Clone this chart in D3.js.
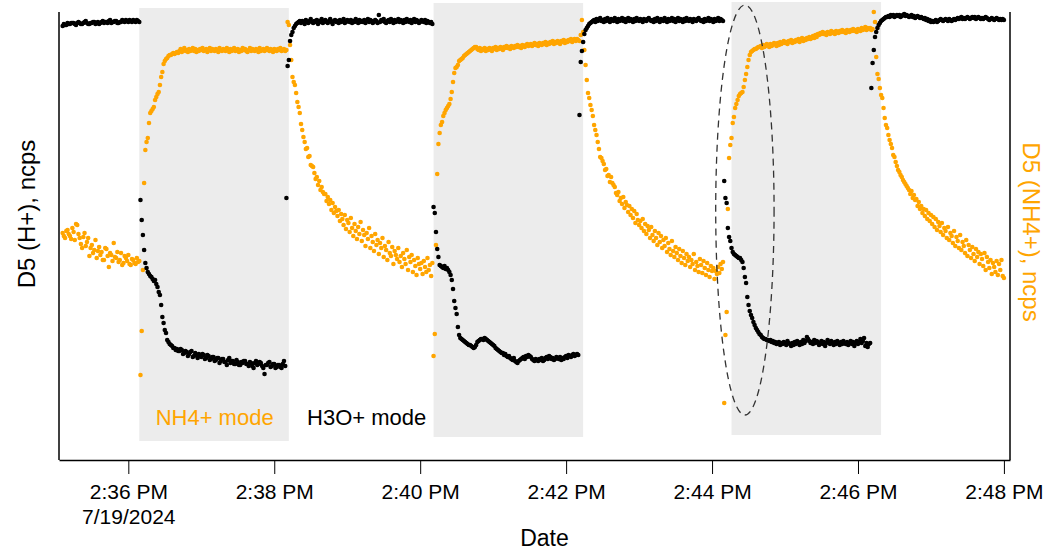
<!DOCTYPE html>
<html>
<head>
<meta charset="utf-8">
<script src="https://cdn.jsdelivr.net/npm/d3@7"></script>
<style>
  body { margin: 0; background: #fff; }
  text { font-family: "Liberation Sans", Arial, sans-serif; }
</style>
</head>
<body>
<div id="chart"></div>
<script>
// 1 s samples; each chunk starts at phaseStart[p] seconds after 2:35:00 PM
const baseTime = new Date(2024, 6, 19, 14, 35, 0);
const phaseStart = [6, 70, 192, 311, 431, 550, 672];

// D5 (H+), black
const hPlus0 = [434,436,435,435,437,436,436,437,437,437,436,435,437,438,437,436,
  436,437,438,439,437,436,436,437,437,438,438,436,437,438,436,437,
  438,439,437,438,438,437,439,440,437,438,438,439,439,437,437,438,
  438,440,439,438,440,439,438,440,439,438,440,439,438,440,439,438];
const hPlus1 = [260,240,225,210,197,192,188,186,184,183,181,179,180,176,173,168,165,155,143,137,
  130,127,120,118,116,115,114,112,112,110,111,109,109,111,110,106,107,109,108,104,
  106,108,109,103,104,107,105,102,106,104,103,106,105,101,102,105,104,100,101,103,
  103,99,100,102,102,97,99,101,101,98,98,95,100,102,97,99,99,96,96,100,
  98,95,95,98,97,99,99,96,96,94,98,97,94,92,97,99,95,96,98,97,
  94,92,86,95,95,97,98,93,94,96,96,92,93,95,95,93,92,96,99,94,262,394];
const hPlus2 = [400,419,425,428,432,434,436,437,438,439,
  437,439,438,436,440,438,437,439,441,438,437,439,438,440,436,439,438,441,437,439,
  440,438,437,439,441,438,436,439,440,438,439,437,440,438,439,441,437,438,440,439,
  438,440,437,439,438,441,439,437,440,438,439,438,440,437,439,441,438,440,439,437,
  438,440,439,437,445,438,440,439,441,438,437,439,440,438,441,439,437,440,438,439,
  441,438,440,439,437,440,438,441,439,438,440,437,439,441,438,440,439,437,438,440,
  439,438,440,437,439,438,437,438,436];
const hPlus3 = [253,247,228,211,203,195,194,193,192,194,191,192,190,188,185,180,171,159,152,146,
  133,125,122,121,120,119,118,117,116,115,115,114,113,112,113,115,118,119,120,121,
  121,120,122,121,120,119,118,117,116,115,114,112,111,110,109,108,107,107,105,106,
  104,103,104,102,101,100,102,99,98,97,99,100,101,102,103,101,104,103,105,104,
  103,101,100,99,101,100,99,101,100,102,99,100,102,103,101,104,103,101,102,100,
  101,103,102,101,103,100,102,101,103,104,102,105,104,103,105,106,104,105,106,105];
const hPlus4 = [345,398,409,418,426,430,432,434,436,437,438,439,440,438,441,439,440,442,439,
  440,438,441,439,442,440,438,441,440,439,442,440,438,441,439,440,442,439,441,438,
  440,442,439,441,440,438,441,439,442,440,439,441,440,438,441,440,439,441,442,440,
  439,440,438,441,439,442,440,438,441,440,439,442,440,438,441,439,440,442,439,441,
  438,440,442,439,441,440,438,441,439,442,440,439,441,440,438,441,440,439,441,442,
  440,439,440,438,441,439,440,442,439,441,440,438,441,439,440,442,439,441,440,439];
const hPlus5 = [279,262,257,232,223,219,212,208,206,205,204,203,202,202,200,198,192,183,177,163,
  155,149,145,142,138,135,132,130,128,126,125,123,122,121,121,120,120,119,120,118,
  119,117,118,116,117,118,115,117,116,118,117,115,119,117,116,114,117,115,118,116,
  119,117,115,118,116,120,117,119,123,121,119,117,118,116,120,117,119,118,115,117,
  119,116,118,114,117,120,118,116,119,117,115,118,116,119,117,115,118,116,119,117,
  116,118,115,117,119,116,118,114,117,119,116,118,121,117,119,122,114,117,113,116,117,372];
const hPlus6 = [397,410,423,428,432,435,437,439,440,441,442,443,443,444,443,445,444,445,443,444,
  445,444,445,443,444,445,446,444,445,444,443,444,445,443,444,442,443,444,443,442,
  443,442,441,442,440,441,439,440,438,439,438,439,440,438,439,440,441,440,439,440,
  441,440,439,441,440,439,440,441,440,441,442,441,442,443,441,442,441,442,443,442,
  441,442,443,442,443,441,442,443,442,441,442,441,442,443,442,441,440,441,442,441,
  440,441,442,441,440,441,440,441,440];

// D5 (NH4+), orange
const nh4_0 = [227,224,222,229,230,226,224,221,232,228,220,236,235,226,222,216,
  212,223,227,214,218,222,204,212,215,207,210,220,202,209,213,205,
  208,200,200,212,211,204,193,207,205,199,217,203,202,208,198,200,
  207,195,197,204,202,199,205,196,195,201,200,197,196,202,198,199];
const nh4_1 = [85,129,190,277,310,318,322,337,347,349,351,353,360,363,366,368,375,383,388,396,
  399,401,402,404,405,405,406,407,406,407,408,407,
  409,411,408,410,412,409,410,408,411,409,410,412,409,411,408,410,409,411,410,412,
  409,410,411,408,410,412,409,411,410,409,411,410,408,412,410,409,411,410,409,412,
  410,408,411,409,410,412,409,410,411,408,410,409,412,410,411,409,408,410,412,409,
  411,410,409,411,410,408,412,409,410,411,409,410,412,410,409,411,410,408,411,410,
  409,411,410,412,409,410,411,409,410,438];
const nh4_2 = [435,415,400,383,378,375,367,358,353,347,
  336,330,323,318,311,312,303,304,295,294,293,287,281,283,275,279,270,273,268,266,
  266,259,263,256,260,250,257,247,253,249,244,250,239,246,241,235,245,231,240,237,
  228,242,232,224,236,229,221,233,226,238,219,230,225,214,227,221,232,212,224,218,
  209,226,215,220,206,217,212,222,203,214,210,200,218,207,204,213,196,209,205,201,
  212,198,204,193,207,201,196,210,190,203,198,205,188,200,194,185,202,196,191,197,
  186,199,193,188,202,190,195,184,197];
const nh4_3 = [104,126,215,286,316,327,335,338,344,347,350,352,354,356,361,368,378,387,392,393,
  395,399,400,401,402,404,405,406,407,408,409,410,411,412,413,413,411,410,412,409,
  411,410,412,409,411,410,412,411,409,412,411,413,410,412,411,413,412,410,413,412,
  414,412,413,411,414,413,412,414,413,415,413,414,412,415,414,413,415,416,414,415,
  416,414,415,417,415,416,414,417,416,415,417,416,418,415,417,416,418,417,419,416,
  418,417,419,418,416,419,418,420,417,419,418,420,419,421,418,420,421,419,421,420];
const nh4_4 = [419,425,440,428,410,395,380,367,362,355,350,344,335,330,325,318,311,303,302,299,
  296,290,291,284,285,278,283,277,275,273,267,265,268,259,262,256,263,252,258,255,
  248,254,245,251,242,249,237,246,240,235,239,232,241,229,236,226,234,230,222,233,
  225,219,229,222,215,227,218,224,212,220,214,222,208,217,211,205,219,209,203,213,
  207,200,211,204,197,209,202,195,206,199,203,193,200,196,206,190,198,194,188,201,
  195,187,199,192,185,197,190,183,194,189,192,181,189,186,193,187,196,191,198];
const nh4_5 = [57,125,148,251,302,315,322,337,343,352,356,360,364,366,367,368,373,380,386,393,
  400,405,408,409,410,411,411,412,413,413,414,412,415,413,414,416,415,413,416,414,
  415,417,416,414,417,415,418,416,417,419,417,418,416,419,418,420,417,419,418,420,
  419,421,418,420,422,419,421,420,422,421,423,421,422,424,422,425,423,426,425,427,
  426,428,426,427,425,428,427,426,429,427,428,426,429,428,427,429,428,430,428,429,
  427,430,429,428,430,429,431,429,430,428,431,430,429,432,430,431,433,430,432,431,432,430];
const nh4_6 = [431,448,438,403,386,381,372,365,362,352,342,335,332,325,320,316,312,305,303,298,
  294,290,288,285,283,280,278,276,274,272,
  270,266,269,262,265,260,261,254,258,251,254,247,251,244,250,241,247,239,245,236,
  243,233,241,230,238,234,228,237,225,232,229,222,233,220,227,224,217,229,214,223,
  219,212,225,210,218,214,207,220,204,215,210,202,213,206,199,211,203,208,196,206,
  201,194,207,190,203,198,192,200,186,197,193,188,199,185,196,190,200,184,182];

const hPlusPhases = [hPlus0, hPlus1, hPlus2, hPlus3, hPlus4, hPlus5, hPlus6];
const nh4Phases = [nh4_0, nh4_1, nh4_2, nh4_3, nh4_4, nh4_5, nh4_6];

// NH4+ mode periods (shaded)
const modeStart = [new Date(2024,6,19,14,36,9), new Date(2024,6,19,14,40,11), new Date(2024,6,19,14,44,16)];
const modeEnd   = [new Date(2024,6,19,14,38,12), new Date(2024,6,19,14,42,14), new Date(2024,6,19,14,46,19)];
const shadeTop    = [452, 457, 458];
const shadeBottom = [19, 23, 25];

const tickTimes = [36, 38, 40, 42, 44, 46, 48].map(m => new Date(2024, 6, 19, 14, m, 0));
const xDomain = [new Date(2024,6,19,14,35,3), new Date(2024,6,19,14,48,5)];
const yDomain = [0, 450];

// highlighted transition
const ringCenter = new Date(2024,6,19,14,44,27);
const ringValue = 250, ringHalfSec = 24, ringHalfValue = 205;

const margin = {top: 10, right: 35, bottom: 90, left: 59},
      width = 1045 - margin.left - margin.right,
      height = 550 - margin.top - margin.bottom;

const svg = d3.select("#chart")
  .append("svg")
  .attr("width", width + margin.left + margin.right)
  .attr("height", height + margin.top + margin.bottom)
  .append("g")
  .attr("transform", `translate(${margin.left}, ${margin.top})`);

const x = d3.scaleTime().domain(xDomain).range([0, width]);
const yH = d3.scaleLinear().domain(yDomain).range([height, 0]);
const yN = d3.scaleLinear().domain(yDomain).range([height, 0]);

function toPoints(phases) {
  const pts = [];
  phases.forEach((vals, p) => vals.forEach((v, k) => {
    pts.push({t: new Date(baseTime.getTime() + (phaseStart[p] + k) * 1000), v: v});
  }));
  return pts;
}
const hPts = toPoints(hPlusPhases);
const nPts = toPoints(nh4Phases);

// shaded NH4+ mode windows
svg.append("g")
  .selectAll("rect")
  .data(modeStart)
  .join("rect")
    .attr("x", d => x(d))
    .attr("width", (d, i) => x(modeEnd[i]) - x(d))
    .attr("y", (d, i) => yH(shadeTop[i]))
    .attr("height", (d, i) => yH(shadeBottom[i]) - yH(shadeTop[i]))
    .style("fill", "#ececec");

// orange points
svg.append("g")
  .selectAll("circle")
  .data(nPts)
  .join("circle")
    .attr("cx", d => x(d.t))
    .attr("cy", d => yN(d.v))
    .attr("r", 2.3)
    .style("fill", "#ffa500");

// black points
svg.append("g")
  .selectAll("circle")
  .data(hPts)
  .join("circle")
    .attr("cx", d => x(d.t))
    .attr("cy", d => yH(d.v))
    .attr("r", 2.3)
    .style("fill", "#000");

// dashed ellipse around the transition
const cx = x(ringCenter);
svg.append("ellipse")
  .attr("cx", cx)
  .attr("cy", yH(ringValue))
  .attr("rx", x(new Date(ringCenter.getTime() + ringHalfSec * 1000)) - cx)
  .attr("ry", yH(ringValue - ringHalfValue) - yH(ringValue))
  .style("fill", "none")
  .style("stroke", "#333")
  .style("stroke-width", 1.3)
  .style("stroke-dasharray", "7,5");

// mode labels
svg.append("text")
  .attr("x", x(new Date(2024,6,19,14,37,11)))
  .attr("y", 415)
  .attr("text-anchor", "middle")
  .style("font-size", "22px")
  .style("fill", "#ffa500")
  .text("NH4+ mode");

svg.append("text")
  .attr("x", x(new Date(2024,6,19,14,39,16)))
  .attr("y", 415)
  .attr("text-anchor", "middle")
  .style("font-size", "22px")
  .style("fill", "#000")
  .text("H3O+ mode");

// X axis
const fmt = d3.timeFormat("%-I:%M %p");
const xAxis = svg.append("g")
  .attr("transform", `translate(0, ${height})`)
  .call(d3.axisBottom(x).tickValues(tickTimes).tickFormat(fmt).tickSize(14).tickSizeOuter(0).tickPadding(10));
xAxis.select(".domain").attr("stroke-width", 1.5);
xAxis.selectAll(".tick text")
  .style("font-size", "21px")
  .style("font-family", "'Liberation Sans', Arial, sans-serif");
xAxis.select(".tick text")
  .append("tspan")
  .attr("x", 0)
  .attr("dy", "1.2em")
  .text("7/19/2024");

// Y axes: plain lines, no ticks
svg.append("line")
  .attr("x1", 0).attr("x2", 0)
  .attr("y1", 2).attr("y2", height)
  .style("stroke", "#000").style("stroke-width", 1.5);
svg.append("line")
  .attr("x1", width).attr("x2", width)
  .attr("y1", 2).attr("y2", height)
  .style("stroke", "#000").style("stroke-width", 1.5);

// axis titles
svg.append("text")
  .attr("text-anchor", "middle")
  .attr("x", width / 2 + 10)
  .attr("y", height + 86)
  .style("font-size", "23px")
  .text("Date");

svg.append("text")
  .attr("text-anchor", "middle")
  .attr("transform", `translate(-24, 204) rotate(-90)`)
  .style("font-size", "24px")
  .text("D5 (H+), ncps");

svg.append("text")
  .attr("text-anchor", "middle")
  .attr("transform", `translate(${width + 13}, 222) rotate(90)`)
  .style("font-size", "24px")
  .style("fill", "#ffa500")
  .text("D5 (NH4+), ncps");
</script>
</body>
</html>
